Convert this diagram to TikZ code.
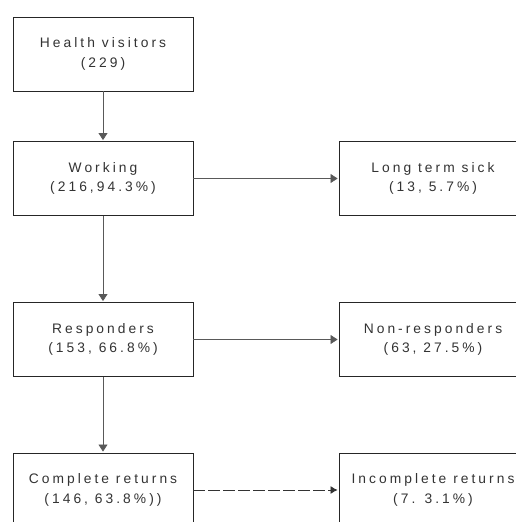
\documentclass[tikz,border=0pt]{standalone}
\usepackage{fontspec}
\setmainfont[LetterSpace=22]{Liberation Sans}
\usepackage{tikz}
\usetikzlibrary{shapes,arrows.meta}
\definecolor{edgegray}{gray}{0.35}
\definecolor{textgray}{gray}{0.2}
\tikzstyle{block} = [rectangle, draw=black!85, line width=0.9pt, fill=white, text=textgray,
    minimum width=180pt, minimum height=74pt, align=center, font=\fontsize{13.8}{19.5}\selectfont, inner sep=0pt]
\tikzstyle{wideblock} = [block, minimum width=188pt]
\tikzstyle{line} = [draw=edgegray, line width=0.8pt, -{Triangle[length=7pt,width=9pt]}, shorten >=1pt]
\tikzstyle{dashline} = [line, draw=black!80, dashed, dash pattern=on 12pt off 3pt, -{Latex[length=7pt,width=8pt]}]

\begin{document}
\begin{tikzpicture}[x=1pt, y=-1pt, node distance = 330pt]
    \useasboundingbox (0,0) rectangle (516,522);
    % Place nodes
    \node [block] (visitors) at (103,54) {Health visitors\\(229)};
    \node [block, node distance=124.5pt, below of=visitors] (working) {Working\\(216,94.3\%)};
    \node [wideblock, right of=working] (sick) {Long term sick\\(13, 5.7\%)};
    \node [block, node distance=161pt, below of=working] (responders) {Responders\\(153, 66.8\%)};
    \node [wideblock, right of=responders] (nonresp) {Non-responders\\(63, 27.5\%)};
    \node [block, node distance=150.5pt, below of=responders] (complete) {Complete returns\\(146, 63.8\%))};
    \node [wideblock, right of=complete] (incomplete) {Incomplete returns\\(7. 3.1\%)};

    % Draw edges
    \path [line] (visitors) -- (working);
    \path [line] (working) -- (responders);
    \path [line] (responders) -- (complete);
    \path [line] (working) -- (sick);
    \path [line] (responders) -- (nonresp);
    \path [dashline] (complete) -- (incomplete);
\end{tikzpicture}
\end{document}
